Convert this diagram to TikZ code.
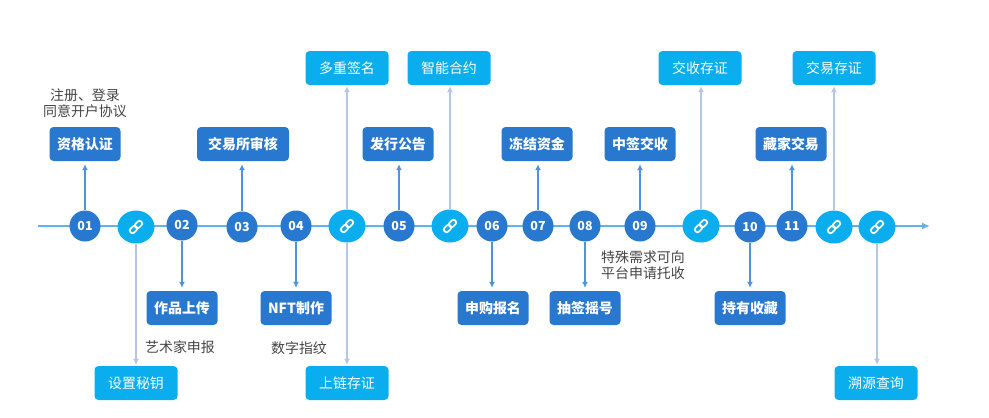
\documentclass[tikz,border=0pt]{standalone}
\usepackage{fontspec}
\setmainfont{Noto Sans CJK SC}
\usetikzlibrary{arrows.meta, shapes.geometric}
\definecolor{deepblue}{HTML}{2878CF}
\definecolor{skyblue}{HTML}{0AAEEF}
\definecolor{axisblue}{HTML}{62B4E6}
\definecolor{armblue}{HTML}{4E94DA}
\definecolor{paleblue}{HTML}{B4C6E6}
\definecolor{notegray}{HTML}{444444}
\tikzset{
  stepdot/.style={circle, fill=deepblue, text=white, minimum size=31bp, inner sep=0pt, font=\fontsize{12.5}{12.5}\selectfont\bfseries},
  linkdot/.style={ellipse, fill=skyblue, minimum width=37bp, minimum height=33bp, inner sep=0pt},
  darkbox/.style={rectangle, rounded corners=4bp, fill=deepblue, text=white, minimum width=71bp, minimum height=34bp, inner sep=0pt, font=\fontsize{14}{14}\selectfont\bfseries},
  lightbox/.style={rectangle, rounded corners=4bp, fill=skyblue, text=white, minimum width=83bp, minimum height=34bp, inner sep=0pt, font=\fontsize{14}{14}\selectfont},
  note/.style={text=notegray, align=center, inner sep=0pt, font=\fontsize{14}{16}\selectfont},
  arm/.style={-{Latex[length=6bp,width=6bp]}, line width=1.5bp, armblue, shorten >=3bp},
  palearm/.style={-{Latex[length=6bp,width=6bp]}, line width=1.5bp, paleblue, shorten >=1bp},
  linkicon/.pic={
    \draw[white, line width=1.7bp, rotate=45, rounded corners=2.2bp] (-7.5,-2.6) rectangle (0.5,2.6);
    \draw[white, line width=1.7bp, rotate=45, rounded corners=2.2bp] (-0.5,-2.6) rectangle (7.5,2.6);
  }
}
\begin{document}
\begin{tikzpicture}[x=1bp, y=-1bp]
  \useasboundingbox (0,0) rectangle (989,417);
  % time line
  \coordinate (axisstart) at (38,226);
  \coordinate (axisend) at (930,226);
  \draw[-{Latex[length=8bp,width=7bp]}, line width=1.6bp, axisblue] (axisstart) -- (axisend);
  % numbered steps
  \foreach \name/\x/\y/\num in {s1/85/226/01, s2/182/225/02, s3/242/227/03, s4/296/226/04, s5/399/226/05,
      s6/492/226/06, s7/538/226/07, s8/585/226/08, s9/640/226/09, s10/750/227/10, s11/792/226/11}
    \node[stepdot] (\name) at (\x,\y) {\num};
  % link steps
  \foreach \name/\x/\y in {l1/136/227, l2/347/226, l3/450/226, l4/701/226, l5/834/227, l6/877/227} {
    \node[linkdot] (\name) at (\x,\y) {};
    \pic at (\x,\y) {linkicon};
  }
  % dark boxes
  \node[darkbox] (zige) at (85,144) {资格认证};
  \node[darkbox, minimum width=92bp] (shenhe) at (243,144) {交易所审核};
  \node[darkbox] (gonggao) at (398,144) {发行公告};
  \node[darkbox] (dongjie) at (537,144) {冻结资金};
  \node[darkbox] (zhongqian) at (640,144) {中签交收};
  \node[darkbox] (cangjia) at (791,144) {藏家交易};
  \node[darkbox] (zuopin) at (182,308) {作品上传};
  \node[darkbox] (nft) at (296,308) {NFT制作};
  \node[darkbox] (shengou) at (493,308) {申购报名};
  \node[darkbox] (chouqian) at (585,308) {抽签摇号};
  \node[darkbox] (chiyou) at (750,308) {持有收藏};
  % light boxes
  \node[lightbox] (duozhong) at (347,68) {多重签名};
  \node[lightbox] (zhineng) at (449,68) {智能合约};
  \node[lightbox] (jiaoshou) at (700,68) {交收存证};
  \node[lightbox] (jiaoyi) at (834,68) {交易存证};
  \node[lightbox] (miyao) at (136,383) {设置秘钥};
  \node[lightbox] (shanglian) at (347,383) {上链存证};
  \node[lightbox] (suyuan) at (876,383) {溯源查询};
  % notes
  \node[note] (zhuce) at (85,103.5) {注册、登录\\同意开户协议};
  \node[note] (yishu) at (180,347) {艺术家申报};
  \node[note] (zhiwen) at (299,348) {数字指纹};
  \node[note] (teshu) at (643,265) {特殊需求可向\\平台申请托收};
  % arrows
  \foreach \a/\b in {s1/zige, s3/shenhe, s5/gonggao, s7/dongjie, s9/zhongqian, s11/cangjia}
    \draw[arm] (\a) -- (\a |- \b.south);
  \foreach \a/\b in {s2/zuopin, s4/nft, s6/shengou, s8/chouqian, s10/chiyou}
    \draw[arm] (\a) -- (\a |- \b.north);
  \foreach \a/\b in {l2/duozhong, l3/zhineng, l4/jiaoshou, l5/jiaoyi}
    \draw[palearm] (\a) -- (\a |- \b.south);
  \foreach \a/\b in {l1/miyao, l2/shanglian, l6/suyuan}
    \draw[palearm] (\a) -- (\a |- \b.north);
\end{tikzpicture}
\end{document}
